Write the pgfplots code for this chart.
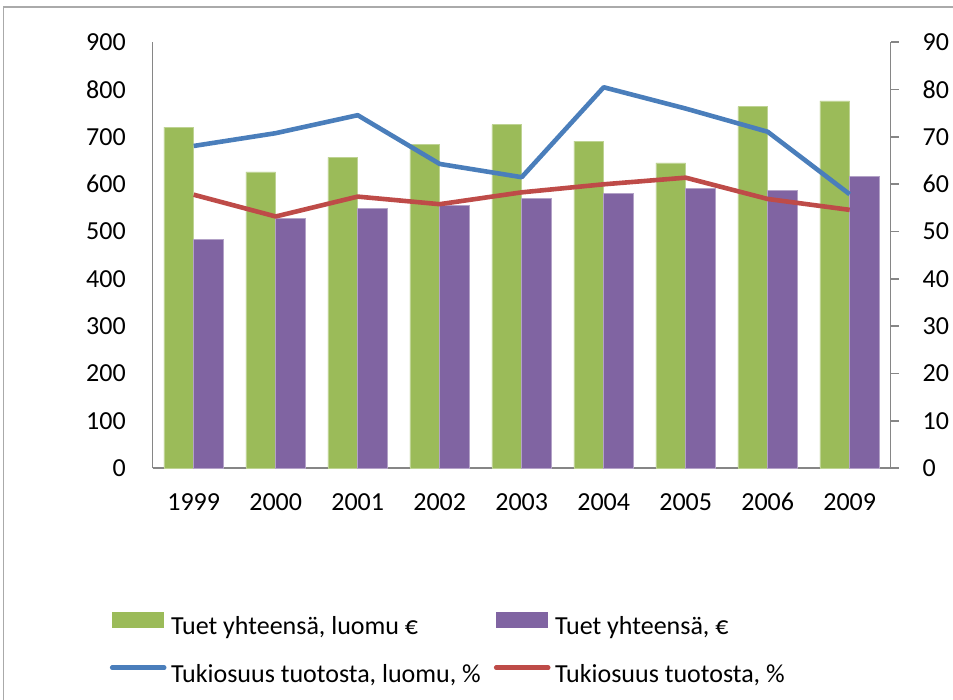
\documentclass[border=0pt]{standalone}
\usepackage{fontspec}
\setmainfont{Carlito}
\usepackage{pgfplots}
\pgfplotsset{compat=1.18}
\definecolor{barGreen}{HTML}{9BBB59}
\definecolor{barPurple}{HTML}{8064A2}
\definecolor{lineBlue}{HTML}{4A7EBB}
\definecolor{lineRed}{HTML}{BE4B48}
\definecolor{axGray}{HTML}{868686}
\newcommand{\chartfont}{\fontsize{13}{15.6}\selectfont}
\pgfplotsset{
  barleg/.style={legend image code/.code={\fill[##1] (0pt,0pt) rectangle (26pt,8pt);}},
  lineleg/.style={legend image code/.code={\draw[##1, line cap=round] (0pt,4pt) -- (26pt,4pt);}},
}
\begin{document}
\begin{tikzpicture}
\useasboundingbox (-76.35pt,-115.85pt) rectangle (400.15pt,234.15pt);
\draw[color=axGray!70, line width=0.6pt] (-74.6pt,-120pt) -- (-74.6pt,230.65pt) -- (410pt,230.65pt);
\begin{axis}[
  scale only axis, width=369pt, height=213pt,
  at={(0,0)}, anchor=south west,
  xmin=-0.5, xmax=8.5, ymin=0, ymax=900,
  ybar=0pt, bar width=14.85pt,
  axis x line*=bottom, axis y line*=left,
  axis line style={color=axGray, line width=0.8pt},
  xtick={0,...,8},
  xticklabels={1999,2000,2001,2002,2003,2004,2005,2006,2009},
  ytick={0,100,...,900},
  major tick length=0pt,
  /pgf/number format/assume math mode=true,
  every tick label/.append style={font=\chartfont},
  xticklabel style={inner sep=0pt, anchor=base, yshift=-21.2pt},
  yticklabel style={inner sep=0pt, anchor=east, xshift=-13.3pt},
]
\addplot[fill=barGreen, draw=barGreen!65!white, line width=0.4pt] coordinates {
 (0,721) (1,626) (2,657) (3,685) (4,726) (5,691) (6,645) (7,764) (8,776)};
\addplot[fill=barPurple, draw=barPurple!60!white, line width=0.4pt] coordinates {
 (0,484) (1,528) (2,549) (3,556) (4,571) (5,580) (6,592) (7,587) (8,616)};
\end{axis}
\begin{axis}[
  scale only axis, width=369pt, height=213pt,
  at={(0,0)}, anchor=south west,
  xmin=-0.5, xmax=8.5, ymin=0, ymax=90,
  axis x line=none, axis y line*=right,
  axis line style={color=axGray, line width=0.8pt},
  ytick={0,10,...,90},
  tick align=outside, major tick length=4pt,
  tick style={color=axGray, line width=0.8pt},
  /pgf/number format/assume math mode=true,
  every tick label/.append style={font=\chartfont},
  yticklabel style={inner sep=0pt, anchor=west, xshift=11.75pt},
  legend columns=2,
  legend style={at={(0,0)}, anchor=north west, xshift=-21.6pt, yshift=-71.6pt,
    draw=none, fill=none, inner sep=0pt, font=\chartfont, row sep=11.6pt,
    nodes={inner sep=0pt, text height=9.3pt, text depth=3pt},
    /tikz/every odd column/.append style={column sep=2.3pt},
    /tikz/every even column/.append style={column sep=6.5pt}},
  legend cell align=left,
]
\addlegendimage{fill=barGreen, draw=none, barleg}
\addlegendentry{Tuet yhteensä, luomu €}
\addlegendimage{fill=barPurple, draw=none, barleg}
\addlegendentry{Tuet yhteensä, €}
\addplot[color=lineBlue, line width=2.3pt, line join=round, mark=none, lineleg] coordinates {
 (0,68.1) (1,70.8) (2,74.6) (3,64.3) (4,61.5) (5,80.5) (6,76.0) (7,71.1) (8,57.9)};
\addlegendentry{Tukiosuus tuotosta, luomu, \%}
\addplot[color=lineRed, line width=2.3pt, line join=round, mark=none, lineleg] coordinates {
 (0,57.8) (1,53.2) (2,57.4) (3,55.8) (4,58.3) (5,60.0) (6,61.4) (7,56.9) (8,54.6)};
\addlegendentry{Tukiosuus tuotosta, \%}
\end{axis}
\end{tikzpicture}
\end{document}
